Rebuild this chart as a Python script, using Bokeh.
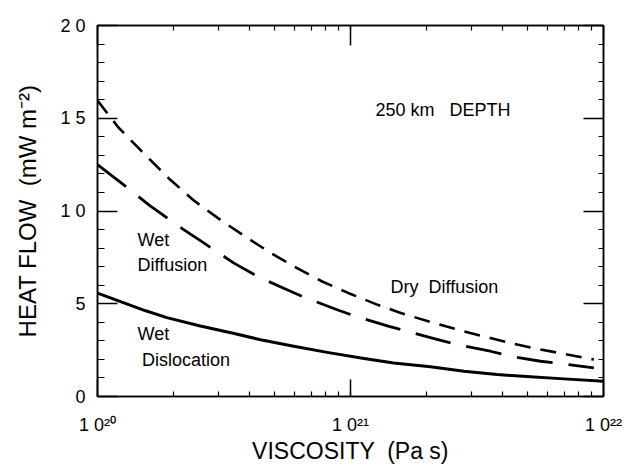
from bokeh.plotting import figure
from bokeh.models import (Range1d, LinearAxis, LogAxis, LogTicker,
                          SingleIntervalTicker, Label)
from bokeh.embed import file_html
from bokeh.resources import INLINE

# ---- data ----
visc_dry = [1.0e20, 1.21e20, 1.5e20, 1.91e20, 2.39e20, 3.06e20, 3.85e20, 4.9e20, 6.15e20,
            7.73e20, 9.84e20, 1.26e21, 1.58e21, 2.07e21, 2.81e21, 3.57e21, 4.56e21,
            5.64e21, 6.97e21, 9.16e21]
hf_dry = [15.95, 14.5, 13.2, 11.77, 10.59, 9.52, 8.61, 7.69, 6.92,
          6.2, 5.57, 4.98, 4.5, 4.02, 3.51, 3.15, 2.8, 2.53, 2.3, 1.99]

visc_wet_diff = [1.0e20, 1.35e20, 1.6e20, 2.19e20, 2.55e20, 3.46e20, 4.08e20, 4.47e20,
                 5.53e20, 6.53e20, 8.85e20, 1.05e21, 1.42e21, 1.68e21, 2.14e21, 2.64e21,
                 3.57e21, 4.29e21, 5.64e21, 6.76e21, 9.16e21]
hf_wet_diff = [12.5, 11.13, 10.32, 9.0, 8.4, 7.19, 6.64, 6.36,
               5.79, 5.36, 4.68, 4.32, 3.78, 3.51, 3.12, 2.8,
               2.44, 2.17, 1.9, 1.78, 1.54]

visc_wet_disl = [1.0e20, 1.55e20, 1.88e20, 2.55e20, 3.47e20, 4.41e20, 5.97e20, 8.09e20,
                 1.1e21, 1.48e21, 2.07e21, 2.81e21, 3.8e21, 5.14e21, 6.97e21, 1.0e22]
hf_wet_disl = [5.57, 4.62, 4.25, 3.8, 3.4, 3.06, 2.71, 2.38,
               2.08, 1.81, 1.6, 1.36, 1.18, 1.06, 0.95, 0.82]

x_tick_labels = {1e20: "1 0²⁰", 1e21: "1 0²¹", 1e22: "1 0²²"}
y_tick_labels = {0: "0", 5: "5", 10: "1 0", 15: "1 5", 20: "2 0"}

NB = "\u00a0"
FONT = "Liberation Sans"

p = figure(width=634, height=466, x_axis_type="log",
           x_range=Range1d(1e20, 1e22), y_range=Range1d(0, 20),
           output_backend="svg", toolbar_location=None,
           min_border_left=97, min_border_right=31,
           min_border_top=25, min_border_bottom=69)
p.grid.visible = False
p.outline_line_color = "black"
p.outline_line_width = 1.5
p.background_fill_color = "white"
p.border_fill_color = "white"

def style_axis(ax, major_in, minor_in):
    ax.major_tick_in = major_in
    ax.major_tick_out = 0
    ax.minor_tick_in = minor_in
    ax.minor_tick_out = 0
    ax.axis_line_color = "black"
    ax.axis_line_width = 1.5
    ax.major_tick_line_color = "black"
    ax.major_tick_line_width = 1.5
    ax.minor_tick_line_color = "black"
    ax.minor_tick_line_width = 1.2
    ax.major_label_text_font = FONT
    ax.major_label_text_font_size = "18px"
    ax.major_label_text_color = "black"
    ax.axis_label_text_font = FONT
    ax.axis_label_text_font_size = "23px"
    ax.axis_label_text_font_style = "normal"
    ax.axis_label_text_color = "black"

# bottom axis
xb = p.xaxis[0]
xb.ticker = LogTicker(num_minor_ticks=10)
xb.major_label_overrides = x_tick_labels
xb.axis_label = "VISCOSITY " + NB + "(Pa s)"
style_axis(xb, 17, 5)
xb.major_label_standoff = 18
xb.axis_label_standoff = 0

# left axis
yl = p.yaxis[0]
yl.ticker = SingleIntervalTicker(interval=5, num_minor_ticks=5)
yl.major_label_overrides = y_tick_labels
yl.axis_label = "HEAT FLOW " + NB + "(mW m⁻²)"
style_axis(yl, 20, 7)
yl.axis_label_text_font_size = "24px"
yl.major_label_standoff = 12
yl.axis_label_standoff = 16

# top axis (ticks only)
xt = LogAxis(ticker=LogTicker(num_minor_ticks=10))
style_axis(xt, 20, 5)
xt.major_label_text_font_size = "1px"
xt.major_label_text_color = None
xt.major_label_standoff = 0
p.add_layout(xt, "above")

# right axis (ticks only)
yr = LinearAxis(ticker=SingleIntervalTicker(interval=5, num_minor_ticks=5))
style_axis(yr, 20, 5)
yr.major_label_text_font_size = "1px"
yr.major_label_text_color = None
yr.major_label_standoff = 0
p.add_layout(yr, "right")

# curves
p.line(visc_dry, hf_dry, line_color="black", line_width=2.6, line_dash="16 10",
       line_join="round")
p.line(visc_wet_diff, hf_wet_diff, line_color="black", line_width=2.8, line_dash="36 16",
       line_join="round")
p.line(visc_wet_disl, hf_wet_disl, line_color="black", line_width=3, line_join="round")

# annotations
def add_label(x, y, txt):
    p.add_layout(Label(x=x, y=y, text=txt, text_font=FONT, text_font_size="18px",
                       text_color="black", text_align="left", text_baseline="middle"))

add_label(1.256e21, 15.43, "250 km " + NB + NB + "DEPTH")
add_label(1.44e20, 8.44, "Wet")
add_label(1.44e20, 7.1, "Diffusion")
add_label(1.44e20, 3.39, "Wet")
add_label(1.5e20, 1.99, "Dislocation")
add_label(1.44e21, 5.91, "Dry " + NB + "Diffusion")

open("out.html", "w").write(file_html(p, INLINE))
